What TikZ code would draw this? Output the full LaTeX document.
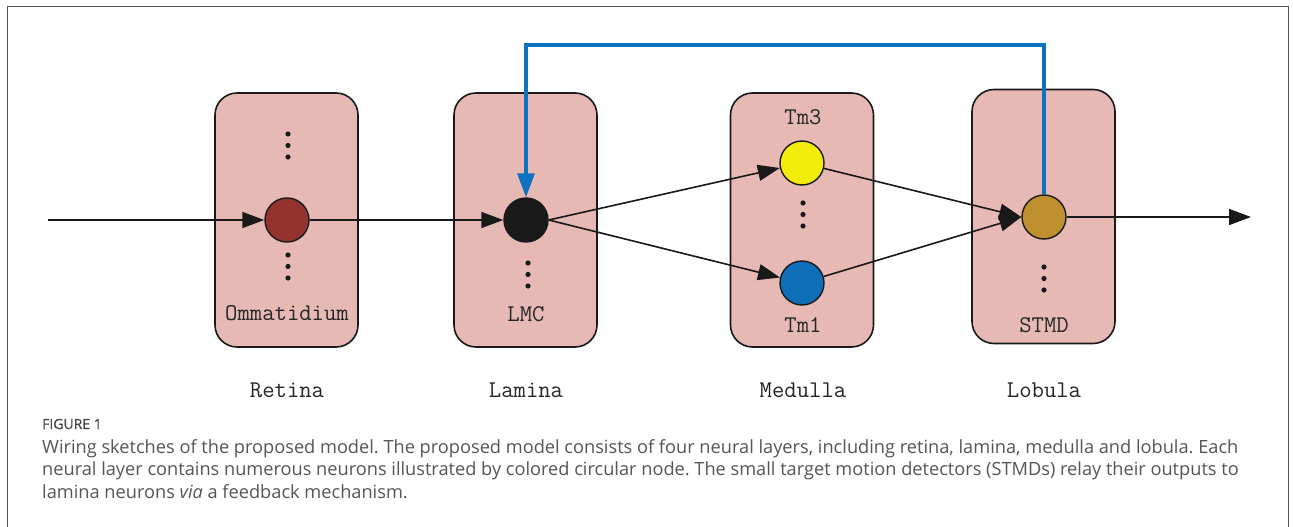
\documentclass[tikz,border=0pt]{standalone}
\usepackage{fontspec}
\newfontfamily\capfont{Open Sans}
\usetikzlibrary{arrows.meta}

\definecolor{boxpink}{RGB}{230,185,181}
\definecolor{retred}{RGB}{148,51,46}
\definecolor{tmyellow}{RGB}{242,236,10}
\definecolor{tmblue}{RGB}{14,110,184}
\definecolor{stmdgold}{RGB}{191,144,47}
\definecolor{fbblue}{RGB}{14,114,192}
\definecolor{capgray}{RGB}{85,85,85}

\begin{document}
\frenchspacing
\begin{tikzpicture}[x=1pt,y=-1pt,
    layer/.style={draw=black!90, fill=boxpink, line width=1.6pt, rounded corners=22pt,
      minimum width=143pt, minimum height=254pt, inner sep=0pt},
    neuron/.style={circle, draw=black!90, line width=1.4pt, minimum size=44pt, inner sep=0pt},
    txt/.style={font=\ttfamily\fontsize{24}{24}\selectfont, text=black!85},
    wire/.style={draw=black!90, line width=1.6pt, -{Triangle[length=22pt,width=16pt]}},
    feedback/.style={draw=fbblue, line width=3.5pt, -{Triangle[length=24pt,width=17pt]}}]
  \useasboundingbox (0,0) rectangle (1293,527);

  % Frame of the figure (open at the bottom)
  \draw[capgray, line width=1pt] (7,527) -- (7,7) -- (1288,7) -- (1288,527);

  % Layer boxes
  \node[layer] (retina)  at (286.5,220) {};
  \node[layer] (lamina)  at (525.5,220) {};
  \node[layer] (medulla) at (802,220) {};
  \node[layer] (lobula)  at (1043.5,216.5) {};

  % Neurons
  \node[neuron, fill=retred]   (ret)  at (287,220) {};
  \node[neuron, fill=black!90] (lmc)  at (526,220) {};
  \node[neuron, fill=tmyellow] (tm3)  at (802,163) {};
  \node[neuron, fill=tmblue]   (tm1)  at (802,283) {};
  \node[neuron, fill=stmdgold] (stmd) at (1044,217) {};

  % Ellipsis dots
  \foreach \x/\y in {288/134, 288/255, 528/263, 803/203, 1044/267}
    \foreach \k in {0,1,2}
      \fill[black!90] (\x,\y+11.5*\k) circle (2.6pt);

  % Names inside the boxes
  \node[txt] (ommname) at (287,313) {Ommatidium};
  \node[txt] (lmcname) at (526,314) {LMC};
  \node[txt] (tm3name) at (803,117) {Tm3};
  \node[txt] (tm1name) at (803,325) {Tm1};
  \node[txt] (stmdname) at (1044,325) {STMD};

  % Layer names
  \node[txt] (retlbl) at (287,390) {Retina};
  \node[txt] (lamlbl) at (526,390) {Lamina};
  \node[txt] (medlbl) at (803,390) {Medulla};
  \node[txt] (loblbl) at (1044,390) {Lobula};

  % Feed-forward wiring
  \coordinate (in) at (48,220);
  \coordinate (out) at (1251,217);
  \draw[wire] (in) -- (ret.west);
  \draw[wire] (ret.east) -- (lmc.west);
  \draw[wire] (lmc.east) -- (tm3);
  \draw[wire] (lmc.east) -- (tm1);
  \draw[wire] (tm3) -- (stmd.west);
  \draw[wire] (tm1) -- (stmd.west);
  \draw[wire] (stmd.east) -- (out);

  % Feedback from STMD to LMC
  \coordinate (fbtop) at (0,45);
  \draw[feedback] (stmd.north) -- (stmd.north |- fbtop) -| (lmc.north);

  % Caption
  \node[anchor=base west, inner sep=0pt, text=capgray!80!black,
    font=\capfont\fontsize{14}{14}\selectfont\addfontfeature{FakeBold=0.6}] (figlbl) at (42,429) {FIGURE 1};
  \node[anchor=north west, inner sep=0pt, text=capgray, align=left,
    font=\capfont\fontsize{18.2}{22.5}\selectfont] (caption) at (42,439)
    {Wiring sketches of the proposed model. The proposed model consists of four neural layers, including retina, lamina, medulla and lobula. Each\\
     neural layer contains numerous neurons illustrated by colored circular node. The small target motion detectors (STMDs) relay their outputs to\\
     lamina neurons \emph{via} a feedback mechanism.};
\end{tikzpicture}
\end{document}
